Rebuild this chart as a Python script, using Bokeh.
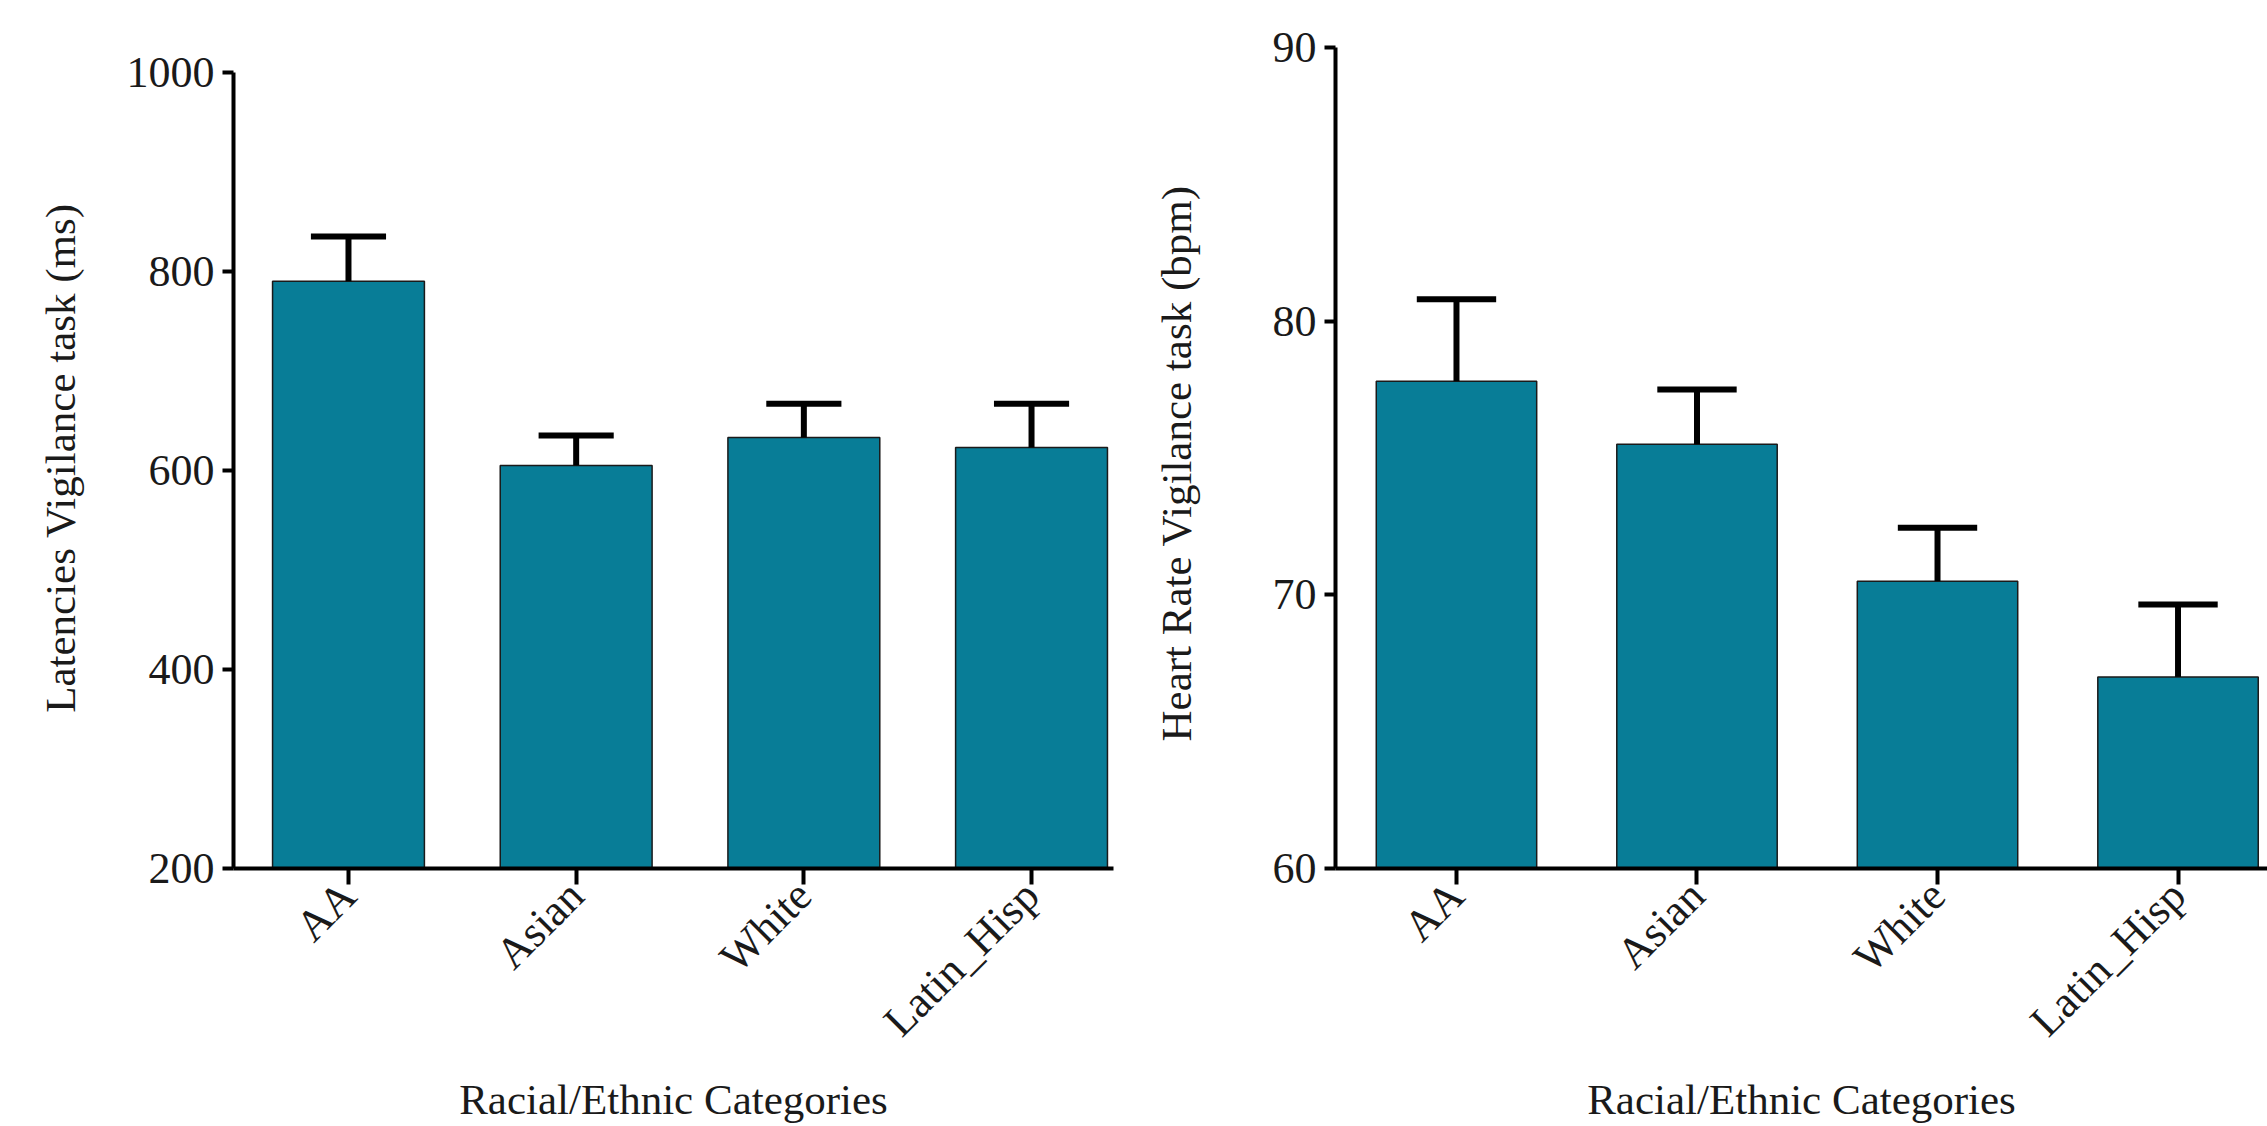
from bokeh.plotting import figure
from bokeh.layouts import row
from bokeh.models import FixedTicker, Range1d
from bokeh.embed import file_html
from bokeh.resources import INLINE
import math

categories = ["AA", "Asian", "White", "Latin_Hisp"]
latency_mean = [790, 605, 633, 623]
latency_sem = [45, 30, 34, 44]
hr_mean = [77.8, 75.5, 70.5, 67.0]
hr_sem = [3.0, 2.0, 1.95, 2.65]
latency_ticks = [200, 400, 600, 800, 1000]
hr_ticks = [60, 70, 80, 90]

FONT = "Liberation Serif"
TEAL = "#087D97"
TXT = "#1a1a1a"

TOP = 47      # shared frame top (px)
BOTTOM = 876  # shared frame bottom (px)
HEIGHT = 1126


def make(means, sems, yticks, y_top_value, ylabel, width, x_start, x_end,
         border_left, border_right, ylabel_standoff, xlabel_standoff):
    xs = list(range(len(categories)))
    p = figure(width=width, height=HEIGHT, output_backend="svg", toolbar_location=None,
               x_range=Range1d(x_start, x_end), y_range=Range1d(yticks[0], y_top_value),
               min_border_left=border_left, min_border_right=border_right,
               min_border_top=TOP, min_border_bottom=HEIGHT - BOTTOM)
    p.outline_line_color = None
    p.xgrid.visible = False
    p.ygrid.visible = False

    base = yticks[0]
    p.vbar(x=xs, top=means, bottom=base, width=0.667, fill_color=TEAL,
           line_color="#1a1a1a", line_width=1.5)
    tops = [m + s for m, s in zip(means, sems)]
    p.segment(x0=xs, y0=means, x1=xs, y1=tops, line_color="black", line_width=6)
    p.segment(x0=[x - 0.165 for x in xs], y0=tops, x1=[x + 0.165 for x in xs], y1=tops,
              line_color="black", line_width=6)

    p.xaxis.ticker = FixedTicker(ticks=xs)
    p.xaxis.major_label_overrides = {i: c for i, c in enumerate(categories)}
    p.xaxis.major_label_orientation = math.pi / 4
    p.yaxis.ticker = FixedTicker(ticks=yticks)
    p.yaxis.bounds = (yticks[0], yticks[-1])

    for ax in (p.xaxis, p.yaxis):
        ax.axis_line_width = 4
        ax.axis_line_color = "black"
        ax.major_tick_line_width = 4
        ax.major_tick_line_color = "black"
        ax.major_tick_in = 0
        ax.minor_tick_line_color = None
        ax.major_label_text_font = FONT
        ax.major_label_text_font_size = "44px"
        ax.major_label_text_color = TXT
        ax.axis_label_text_font = FONT
        ax.axis_label_text_font_size = "43px"
        ax.axis_label_text_font_style = "normal"
        ax.axis_label_text_color = TXT
    p.yaxis.major_tick_out = 11
    p.yaxis.major_label_standoff = 8
    p.xaxis.major_tick_out = 16
    p.xaxis.major_label_standoff = 4
    p.yaxis.axis_label = ylabel
    p.xaxis.axis_label = "Racial/Ethnic Categories"
    p.yaxis.axis_label_standoff = ylabel_standoff
    p.xaxis.axis_label_standoff = xlabel_standoff
    return p


# left: 200 -> BOTTOM, 1000 -> 72 ; extend range up to frame top
l_scale = (1000 - 200) / (BOTTOM - 72)
l_top = 1000 + (72 - TOP) * l_scale

p1 = make(latency_mean, latency_sem, latency_ticks, l_top, "Latencies Vigilance task (ms)",
          width=1130, x_start=-0.505, x_end=3.36,
          border_left=233, border_right=17, ylabel_standoff=40, xlabel_standoff=10)
p2 = make(hr_mean, hr_sem, hr_ticks, 90, "Heart  Rate Vigilance task (bpm)",
          width=1137, x_start=-0.503, x_end=3.372,
          border_left=205, border_right=0, ylabel_standoff=70, xlabel_standoff=10)

layout = row(p1, p2)
open("out.html", "w").write(file_html(layout, INLINE))
